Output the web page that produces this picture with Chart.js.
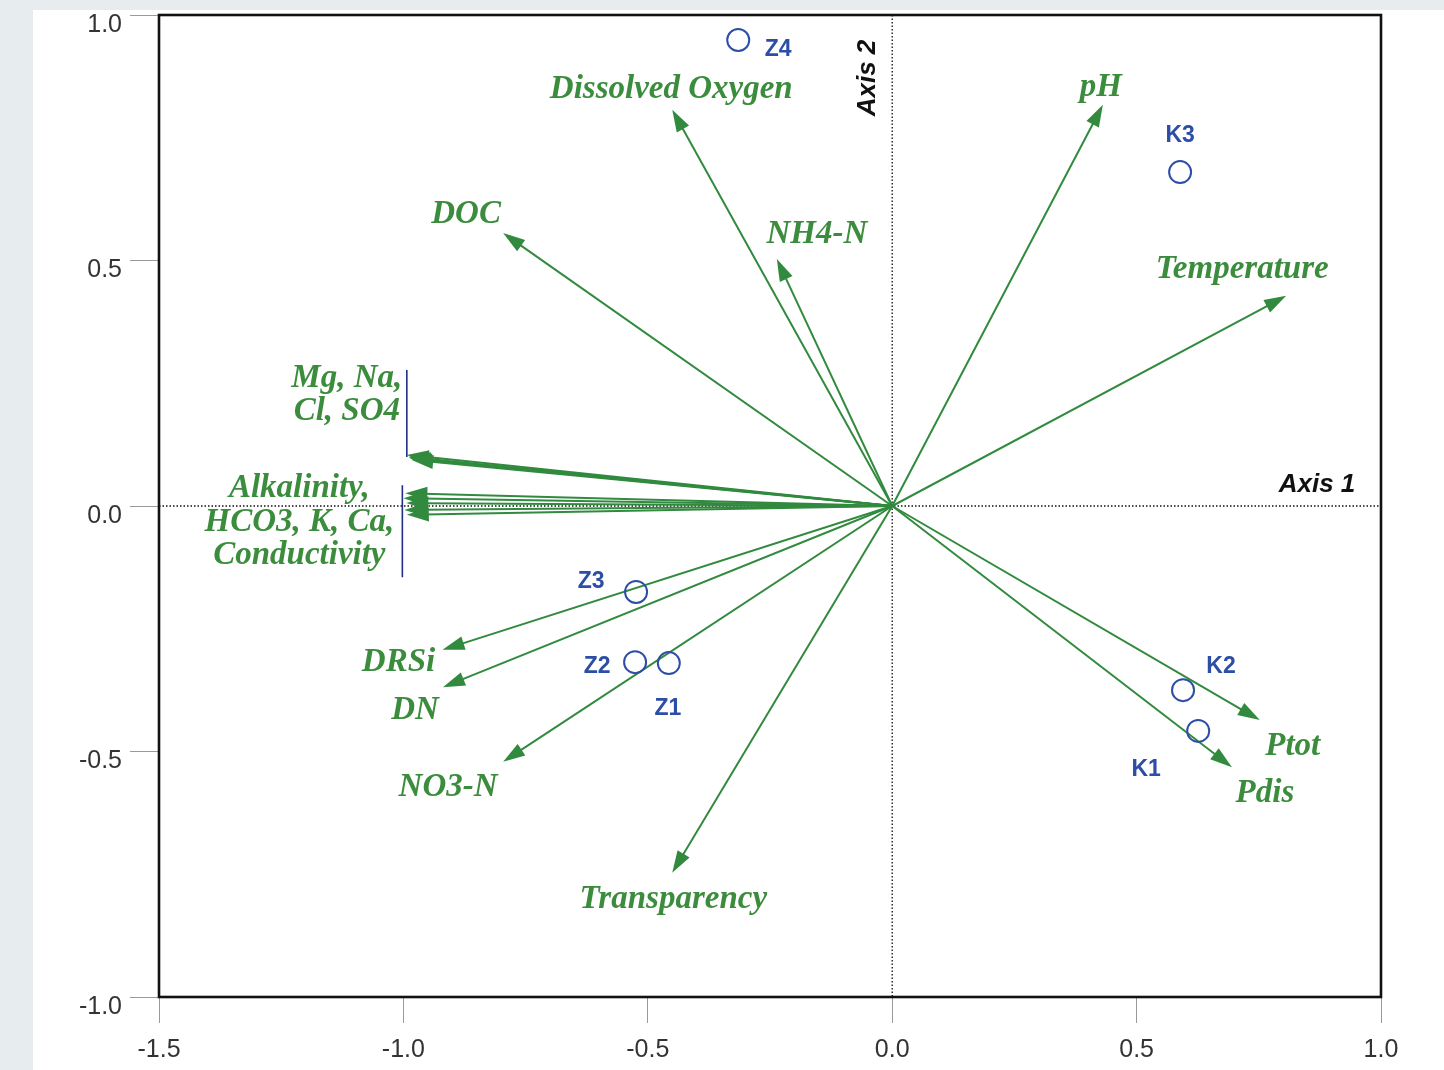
<!DOCTYPE html>
<html>
<head>
<meta charset="utf-8">
<title>PCA biplot</title>
<script src="https://cdn.jsdelivr.net/npm/chart.js@4.4.1/dist/chart.umd.min.js"></script>
<style>
  html, body { margin: 0; padding: 0; }
  body { width: 1444px; height: 1070px; background: #e7ecef; position: relative; overflow: hidden; }
  #panel { position: absolute; left: 33px; top: 10px; right: 0; bottom: 0; background: #fff; }
  #chart { position: absolute; left: 0; top: 0; }
</style>
</head>
<body>
<div id="panel"></div>
<canvas id="chart" width="1444" height="1070"></canvas>
<script>
const xTicks = [-1.5, -1.0, -0.5, 0.0, 0.5, 1.0];
const yTicks = [-1.0, -0.5, 0.0, 0.5, 1.0];

// environmental variables (arrow tips)
const variableNames = ['Dissolved Oxygen', 'DOC', 'NH4-N', 'pH', 'Temperature', 'Ptot', 'Pdis',
  'Transparency', 'NO3-N', 'DRSi', 'DN',
  'Mg', 'Na', 'Cl', 'SO4',
  'Alkalinity', 'HCO3', 'K', 'Ca', 'Conductivity'];
const variableX = [-0.450, -0.796, -0.236, 0.431, 0.806, 0.752, 0.695,
  -0.450, -0.796, -0.920, -0.919,
  -0.993, -0.990, -0.987, -0.984,
  -0.996, -1.000, -0.994, -0.998, -0.993];
const variableY = [0.807, 0.556, 0.503, 0.817, 0.428, -0.436, -0.532,
  -0.747, -0.521, -0.293, -0.369,
  0.104, 0.100, 0.097, 0.094,
  0.026, 0.016, 0.006, -0.008, -0.018];

// sampling sites
const siteNames = ['Z4', 'K3', 'Z3', 'Z2', 'Z1', 'K2', 'K1'];
const siteX = [-0.315, 0.589, -0.524, -0.526, -0.457, 0.595, 0.626];
const siteY = [0.949, 0.680, -0.175, -0.318, -0.320, -0.375, -0.458];

// variables sharing one label
const groups = [
  { members: ['Mg', 'Na', 'Cl', 'SO4'], lines: ['Mg, Na,', 'Cl, SO4'] },
  { members: ['Alkalinity', 'HCO3', 'K', 'Ca', 'Conductivity'], lines: ['Alkalinity,', 'HCO3, K, Ca,', 'Conductivity'] }
];

// label placement (pixel offsets from the mark)
const labelOffsets = {
  'Dissolved Oxygen': [-1, -20], 'DOC': [-37, -19], 'NH4-N': [40, -25], 'pH': [-2, -17],
  'Temperature': [-44, -26], 'Ptot': [33, 26], 'Pdis': [33, 26], 'Transparency': [1, 27],
  'NO3-N': [-55, 26], 'DRSi': [-44, 13], 'DN': [-28, 23]
};
const groupLayout = [
  { dx: -60, dy: [-76, -43], bracket: [0, -85, 2] },
  { dx: -106, dy: [-5, 29, 62], bracket: [-3, -8, 84] }
];
const siteLabelOffsets = { Z4: [40, 10], K3: [0, -36], Z3: [-45, -10], Z2: [-38, 5], Z1: [-1, 46], K2: [38, -23], K1: [-52, 39] };

const arrowColor = '#318a3e';
const textGreen = '#3b8d3d';
const siteBlue = '#2d4ea6';

function drawArrow(ctx, x0, y0, x1, y1) {
  const ang = Math.atan2(y1 - y0, x1 - x0);
  const len = 22, half = 7;
  const bx = x1 - len * Math.cos(ang), by = y1 - len * Math.sin(ang);
  ctx.beginPath();
  ctx.moveTo(x0, y0);
  ctx.lineTo(bx + 4 * Math.cos(ang), by + 4 * Math.sin(ang));
  ctx.stroke();
  ctx.beginPath();
  ctx.moveTo(x1, y1);
  ctx.lineTo(bx + half * Math.sin(ang), by - half * Math.cos(ang));
  ctx.lineTo(bx - half * Math.sin(ang), by + half * Math.cos(ang));
  ctx.closePath();
  ctx.fill();
}

const biplotPlugin = {
  id: 'biplot',
  beforeDatasetsDraw(chart) {
    const ctx = chart.ctx;
    const a = chart.chartArea;
    const xs = chart.scales.x, ys = chart.scales.y;
    const ox = xs.getPixelForValue(0), oy = ys.getPixelForValue(0);
    ctx.save();
    // dotted axes through origin
    ctx.strokeStyle = '#111';
    ctx.lineWidth = 1.3;
    ctx.setLineDash([1.5, 2]);
    ctx.beginPath();
    ctx.moveTo(a.left, oy); ctx.lineTo(a.right, oy);
    ctx.moveTo(ox, a.top); ctx.lineTo(ox, a.bottom);
    ctx.stroke();
    ctx.setLineDash([]);
    // arrows
    ctx.strokeStyle = arrowColor;
    ctx.fillStyle = arrowColor;
    ctx.lineWidth = 2;
    variableNames.forEach((n, i) => {
      drawArrow(ctx, ox, oy, xs.getPixelForValue(variableX[i]), ys.getPixelForValue(variableY[i]));
    });
    ctx.restore();
  },
  afterDatasetsDraw(chart) {
    const ctx = chart.ctx;
    const a = chart.chartArea;
    const xs = chart.scales.x, ys = chart.scales.y;
    ctx.save();
    // variable labels
    ctx.fillStyle = textGreen;
    ctx.font = 'italic bold 33px "Liberation Serif", "Times New Roman", serif';
    ctx.textAlign = 'center';
    ctx.textBaseline = 'middle';
    variableNames.forEach((n, i) => {
      const off = labelOffsets[n];
      if (!off) return;
      const px = xs.getPixelForValue(variableX[i]), py = ys.getPixelForValue(variableY[i]);
      ctx.fillText(n, px + off[0], py + off[1]);
    });
    // grouped labels with brackets
    groups.forEach((g, gi) => {
      const k = variableNames.indexOf(g.members[0]);
      const px = xs.getPixelForValue(variableX[k]), py = ys.getPixelForValue(variableY[k]);
      const lay = groupLayout[gi];
      ctx.fillStyle = textGreen;
      g.lines.forEach((t, j) => ctx.fillText(t, px + lay.dx, py + lay.dy[j]));
      ctx.strokeStyle = '#1f2f86';
      ctx.lineWidth = 1.6;
      ctx.beginPath();
      ctx.moveTo(px + lay.bracket[0], py + lay.bracket[1]);
      ctx.lineTo(px + lay.bracket[0], py + lay.bracket[2]);
      ctx.stroke();
    });
    // site labels
    ctx.fillStyle = siteBlue;
    ctx.font = 'bold 23px "Liberation Sans", Arial, sans-serif';
    siteNames.forEach((n, i) => {
      const off = siteLabelOffsets[n];
      ctx.fillText(n, xs.getPixelForValue(siteX[i]) + off[0], ys.getPixelForValue(siteY[i]) + off[1]);
    });
    // axis names
    ctx.fillStyle = '#111';
    ctx.font = 'italic bold 26px "Liberation Sans", Arial, sans-serif';
    ctx.fillText('Axis 1', a.right - 64, ys.getPixelForValue(0) - 21);
    ctx.save();
    ctx.translate(xs.getPixelForValue(0) - 24, a.top + 63);
    ctx.rotate(-Math.PI / 2);
    ctx.fillText('Axis 2', 0, 0);
    ctx.restore();
    // frame
    ctx.strokeStyle = '#111';
    ctx.lineWidth = 2.6;
    ctx.strokeRect(a.left, a.top, a.right - a.left, a.bottom - a.top);
    ctx.restore();
  }
};

new Chart(document.getElementById('chart').getContext('2d'), {
  type: 'scatter',
  data: {
    datasets: [{
      label: 'Sites',
      data: siteNames.map((n, i) => ({ x: siteX[i], y: siteY[i] })),
      pointStyle: 'circle',
      pointRadius: 11,
      pointBorderWidth: 2,
      pointBorderColor: siteBlue,
      pointBackgroundColor: 'rgba(0,0,0,0)',
      showLine: false
    }]
  },
  options: {
    responsive: false,
    animation: false,
    events: [],
    layout: { padding: { top: 15, right: 63, left: 0, bottom: 0 } },
    plugins: { legend: { display: false }, tooltip: { enabled: false } },
    scales: {
      x: {
        type: 'linear',
        min: -1.5,
        max: 1.0,
        afterBuildTicks: s => { s.ticks = xTicks.map(v => ({ value: v })); },
        afterFit: s => { s.height = 73; s.paddingLeft = 0; s.paddingRight = 0; },
        border: { display: false },
        grid: { drawOnChartArea: false, tickLength: 26, tickColor: '#9a9a9a', lineWidth: 1 },
        ticks: {
          padding: 12,
          color: '#333',
          font: { family: '"Liberation Sans", Arial, sans-serif', size: 25 },
          callback: v => v.toFixed(1)
        }
      },
      y: {
        type: 'linear',
        min: -1.0,
        max: 1.0,
        afterBuildTicks: s => { s.ticks = yTicks.map(v => ({ value: v })); },
        afterFit: s => { s.width = 159; s.paddingTop = 0; s.paddingBottom = 0; },
        border: { display: false },
        grid: { drawOnChartArea: false, tickLength: 29, tickColor: '#9a9a9a', lineWidth: 1 },
        ticks: {
          padding: 8,
          labelOffset: 10,
          color: '#333',
          font: { family: '"Liberation Sans", Arial, sans-serif', size: 25 },
          callback: v => v.toFixed(1)
        }
      }
    }
  },
  plugins: [biplotPlugin]
});
</script>
</body>
</html>
